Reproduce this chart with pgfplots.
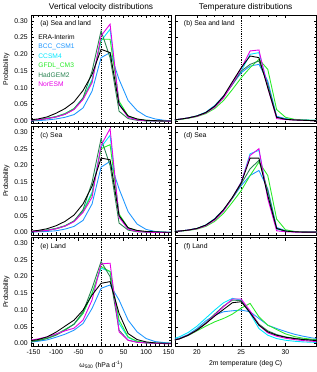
\documentclass[border=0pt]{standalone}
\usepackage{pgfplots}
\pgfplotsset{compat=1.18}
\usepackage{pgfplotstable}
\usepgfplotslibrary{groupplots}
\usepackage{fontspec}
\setmainfont{Liberation Sans}

\definecolor{cera}{RGB}{0,0,0}
\definecolor{cbcc}{RGB}{30,150,255}
\definecolor{cccsm}{RGB}{0,230,255}
\definecolor{cgfdl}{RGB}{40,235,40}
\definecolor{chad}{RGB}{40,130,80}
\definecolor{cnor}{RGB}{230,0,230}

% omega500 distributions, sea and land
\pgfplotstableread{
x     era    bcc    ccsm   gfdl   had    nor
-160  0.004  0.001  0.003  0.003  0.002  0.003
-140  0.007  0.002  0.005  0.005  0.004  0.005
-120  0.013  0.004  0.009  0.009  0.008  0.008
-100  0.024  0.007  0.014  0.014  0.013  0.013
-80   0.038  0.012  0.023  0.023  0.021  0.021
-60   0.058  0.020  0.038  0.038  0.036  0.035
-40   0.092  0.040  0.070  0.068  0.070  0.065
-20   0.140  0.090  0.125  0.120  0.150  0.115
0     0.215  0.190  0.240  0.245  0.270  0.255
20    0.205  0.205  0.275  0.245  0.190  0.290
40    0.050  0.125  0.055  0.060  0.030  0.050
60    0.016  0.062  0.014  0.016  0.008  0.012
80    0.007  0.032  0.005  0.006  0.003  0.004
100   0.003  0.015  0.002  0.003  0.001  0.002
120   0.002  0.007  0.001  0.001  0.001  0.001
140   0.001  0.003  0.001  0.001  0.000  0.001
160   0.001  0.001  0.000  0.000  0.000  0.000
}\omegaall

% omega500, sea
\pgfplotstableread{
x     era    bcc    ccsm   gfdl   had    nor
-160  0.003  0.001  0.002  0.002  0.002  0.002
-140  0.006  0.002  0.004  0.004  0.003  0.004
-120  0.011  0.003  0.007  0.007  0.006  0.006
-100  0.020  0.005  0.012  0.012  0.011  0.011
-80   0.033  0.010  0.020  0.020  0.019  0.019
-60   0.052  0.018  0.034  0.034  0.034  0.032
-40   0.085  0.036  0.065  0.062  0.068  0.060
-20   0.138  0.085  0.120  0.115  0.150  0.105
0     0.222  0.195  0.255  0.250  0.280  0.260
20    0.217  0.212  0.290  0.262  0.200  0.310
40    0.050  0.130  0.050  0.055  0.028  0.045
60    0.014  0.062  0.012  0.014  0.007  0.010
80    0.006  0.025  0.004  0.005  0.002  0.003
100   0.003  0.009  0.002  0.002  0.001  0.001
120   0.002  0.003  0.001  0.001  0.000  0.000
140   0.001  0.001  0.000  0.000  0.000  0.000
160   0.000  0.001  0.000  0.000  0.000  0.000
}\omegasea

% omega500, land
\pgfplotstableread{
x     era    bcc    ccsm   gfdl   had    nor
-160  0.008  0.004  0.006  0.006  0.005  0.009
-140  0.012  0.007  0.010  0.010  0.009  0.014
-120  0.020  0.011  0.016  0.016  0.015  0.020
-100  0.034  0.019  0.027  0.027  0.025  0.029
-80   0.052  0.028  0.042  0.042  0.040  0.038
-60   0.070  0.040  0.058  0.058  0.058  0.046
-40   0.100  0.060  0.090  0.090  0.095  0.070
-20   0.145  0.105  0.150  0.150  0.165  0.130
0     0.180  0.165  0.225  0.230  0.245  0.238
20    0.185  0.175  0.215  0.215  0.200  0.240
40    0.090  0.130  0.060  0.070  0.040  0.035
60    0.030  0.070  0.018  0.020  0.010  0.010
80    0.012  0.035  0.006  0.007  0.004  0.004
100   0.005  0.015  0.003  0.003  0.002  0.002
120   0.002  0.006  0.001  0.001  0.001  0.001
140   0.001  0.003  0.001  0.001  0.000  0.000
160   0.001  0.001  0.000  0.000  0.000  0.000
}\omegaland

% 2m temperature, sea and land
\pgfplotstableread{
x    era    bcc    ccsm   gfdl   had    nor
17   0.003  0.003  0.003  0.003  0.003  0.003
18   0.006  0.006  0.006  0.005  0.006  0.006
19   0.010  0.010  0.010  0.009  0.010  0.010
20   0.016  0.016  0.016  0.014  0.016  0.015
21   0.026  0.027  0.027  0.023  0.026  0.025
22   0.045  0.047  0.046  0.038  0.044  0.042
23   0.075  0.075  0.074  0.062  0.072  0.070
24   0.118  0.110  0.112  0.095  0.110  0.112
25   0.160  0.145  0.150  0.130  0.150  0.158
26   0.195  0.165  0.200  0.160  0.170  0.210
27   0.190  0.170  0.205  0.185  0.180  0.213
28   0.100  0.120  0.110  0.155  0.110  0.100
29   0.012  0.015  0.012  0.035  0.012  0.008
30   0.006  0.008  0.007  0.012  0.006  0.005
31   0.004  0.005  0.005  0.006  0.004  0.004
32   0.003  0.004  0.004  0.004  0.003  0.003
33   0.002  0.003  0.003  0.003  0.002  0.002
34   0.002  0.002  0.002  0.002  0.001  0.001
}\tempall

% 2m temperature, sea
\pgfplotstableread{
x    era    bcc    ccsm   gfdl   had    nor
17   0.002  0.002  0.002  0.002  0.002  0.002
18   0.004  0.004  0.004  0.004  0.004  0.004
19   0.007  0.007  0.007  0.006  0.007  0.007
20   0.012  0.012  0.012  0.010  0.012  0.011
21   0.022  0.022  0.022  0.018  0.021  0.020
22   0.040  0.041  0.040  0.033  0.039  0.037
23   0.068  0.068  0.066  0.057  0.066  0.064
24   0.105  0.102  0.103  0.090  0.102  0.104
25   0.148  0.140  0.150  0.125  0.145  0.150
26   0.222  0.170  0.235  0.170  0.190  0.230
27   0.222  0.185  0.245  0.210  0.215  0.250
28   0.110  0.130  0.110  0.170  0.125  0.100
29   0.012  0.015  0.010  0.040  0.012  0.005
30   0.004  0.005  0.004  0.008  0.004  0.002
31   0.002  0.003  0.002  0.003  0.002  0.001
32   0.001  0.002  0.001  0.002  0.001  0.001
33   0.001  0.001  0.001  0.001  0.001  0.001
34   0.001  0.001  0.001  0.001  0.001  0.001
}\tempsea

% 2m temperature, land
\pgfplotstableread{
x    era    bcc    ccsm   gfdl   had    nor
17   0.008  0.010  0.012  0.008  0.008  0.008
18   0.014  0.016  0.020  0.014  0.014  0.014
19   0.025  0.027  0.033  0.024  0.025  0.025
20   0.040  0.045  0.052  0.038  0.042  0.040
21   0.060  0.068  0.076  0.052  0.062  0.060
22   0.082  0.085  0.100  0.065  0.088  0.085
23   0.102  0.095  0.122  0.075  0.112  0.110
24   0.122  0.098  0.135  0.088  0.130  0.133
25   0.125  0.100  0.130  0.106  0.128  0.133
26   0.092  0.095  0.090  0.120  0.095  0.098
27   0.055  0.075  0.045  0.080  0.058  0.055
28   0.035  0.055  0.025  0.055  0.038  0.032
29   0.025  0.045  0.015  0.042  0.027  0.022
30   0.019  0.036  0.010  0.029  0.020  0.016
31   0.015  0.028  0.007  0.021  0.016  0.012
32   0.012  0.022  0.005  0.016  0.013  0.009
33   0.010  0.017  0.004  0.013  0.011  0.007
34   0.008  0.014  0.003  0.010  0.009  0.005
}\templand

\newcommand{\sixlines}[1]{%
  \addplot[cccsm] table[x=x,y=ccsm] {#1};
  \addplot[cbcc] table[x=x,y=bcc] {#1};
  \addplot[cgfdl] table[x=x,y=gfdl] {#1};
  \addplot[chad] table[x=x,y=had] {#1};
  \addplot[cnor] table[x=x,y=nor] {#1};
  \addplot[cera] table[x=x,y=era] {#1};
}

\begin{document}
\begin{tikzpicture}
\begin{groupplot}[
  group style={group size=2 by 3, horizontal sep=4bp, vertical sep=3bp,
    xticklabels at=edge bottom, yticklabels at=edge left},
  scale only axis, height=110bp,
  ymin=-0.007, ymax=0.316,
  ytick={0,0.05,0.10,0.15,0.20,0.25,0.30},
  minor y tick num=4,
  yticklabel style={/pgf/number format/fixed, /pgf/number format/fixed zerofill,
    /pgf/number format/precision=2},
  /pgf/number format/assume math mode=true,
  tick label style={font=\fontsize{7}{8}\selectfont},
  label style={font=\fontsize{7}{8}\selectfont},
  title style={font=\fontsize{8.5}{9}\selectfont, yshift=-5bp},
  tick align=inside, major tick length=3bp, minor tick length=1.5bp,
  tick style={black, line width=0.4pt},
  axis line style={line width=0.6pt},
  every axis plot/.append style={line width=0.9pt, no markers},
  ylabel style={yshift=-2bp},
]
% (a)
\nextgroupplot[width=142bp, xmin=-155, xmax=155, xtick={-150,-100,...,150},
  minor x tick num=4, ylabel=Probability, title=Vertical velocity distributions]
\addplot[black, densely dotted, line width=0.6pt] coordinates {(0,-0.01) (0,0.33)};
\sixlines{\omegaall}
\node[anchor=west, font=\fontsize{7}{8}\selectfont] at (rel axis cs:0.04,0.92) {(a) Sea and land};
\node[anchor=north west, align=left, inner sep=0pt, font=\fontsize{6.8}{9.6}\selectfont]
  at (rel axis cs:0.05,0.825) {ERA-Interim\\ \textcolor{cbcc}{BCC\_CSM1}\\ \textcolor{cccsm}{CCSM4}\\
  \textcolor{cgfdl}{GFDL\_CM3}\\ \textcolor{chad}{HadGEM2}\\ \textcolor{cnor}{NorESM}};
% (b)
\nextgroupplot[width=144bp, xmin=17.5, xmax=33.5, xtick={20,25,30}, minor x tick num=4,
  title=Temperature distributions]
\addplot[black, densely dotted, line width=0.6pt] coordinates {(25,-0.01) (25,0.33)};
\sixlines{\tempall}
\node[anchor=west, font=\fontsize{7}{8}\selectfont] at (rel axis cs:0.04,0.92) {(b) Sea and land};
% (c)
\nextgroupplot[width=142bp, xmin=-155, xmax=155, xtick={-150,-100,...,150},
  minor x tick num=4, ylabel=Probability]
\addplot[black, densely dotted, line width=0.6pt] coordinates {(0,-0.01) (0,0.33)};
\sixlines{\omegasea}
\node[anchor=west, font=\fontsize{7}{8}\selectfont] at (rel axis cs:0.04,0.92) {(c) Sea};
% (d)
\nextgroupplot[width=144bp, xmin=17.5, xmax=33.5, xtick={20,25,30}, minor x tick num=4]
\addplot[black, densely dotted, line width=0.6pt] coordinates {(25,-0.01) (25,0.33)};
\sixlines{\tempsea}
\node[anchor=west, font=\fontsize{7}{8}\selectfont] at (rel axis cs:0.04,0.92) {(d) Sea};
% (e)
\nextgroupplot[width=142bp, xmin=-155, xmax=155, xtick={-150,-100,...,150},
  minor x tick num=4, ylabel=Probability,
  xlabel={ω\textsubscript{500} (hPa d\textsuperscript{-1})}]
\addplot[black, densely dotted, line width=0.6pt] coordinates {(0,-0.01) (0,0.33)};
\sixlines{\omegaland}
\node[anchor=west, font=\fontsize{7}{8}\selectfont] at (rel axis cs:0.04,0.92) {(e) Land};
% (f)
\nextgroupplot[width=144bp, xmin=17.5, xmax=33.5, xtick={20,25,30}, minor x tick num=4,
  xlabel={2m temperature (deg C)}]
\addplot[black, densely dotted, line width=0.6pt] coordinates {(25,-0.01) (25,0.33)};
\sixlines{\templand}
\node[anchor=west, font=\fontsize{7}{8}\selectfont] at (rel axis cs:0.04,0.92) {(f) Land};
\end{groupplot}
\end{tikzpicture}
\end{document}
